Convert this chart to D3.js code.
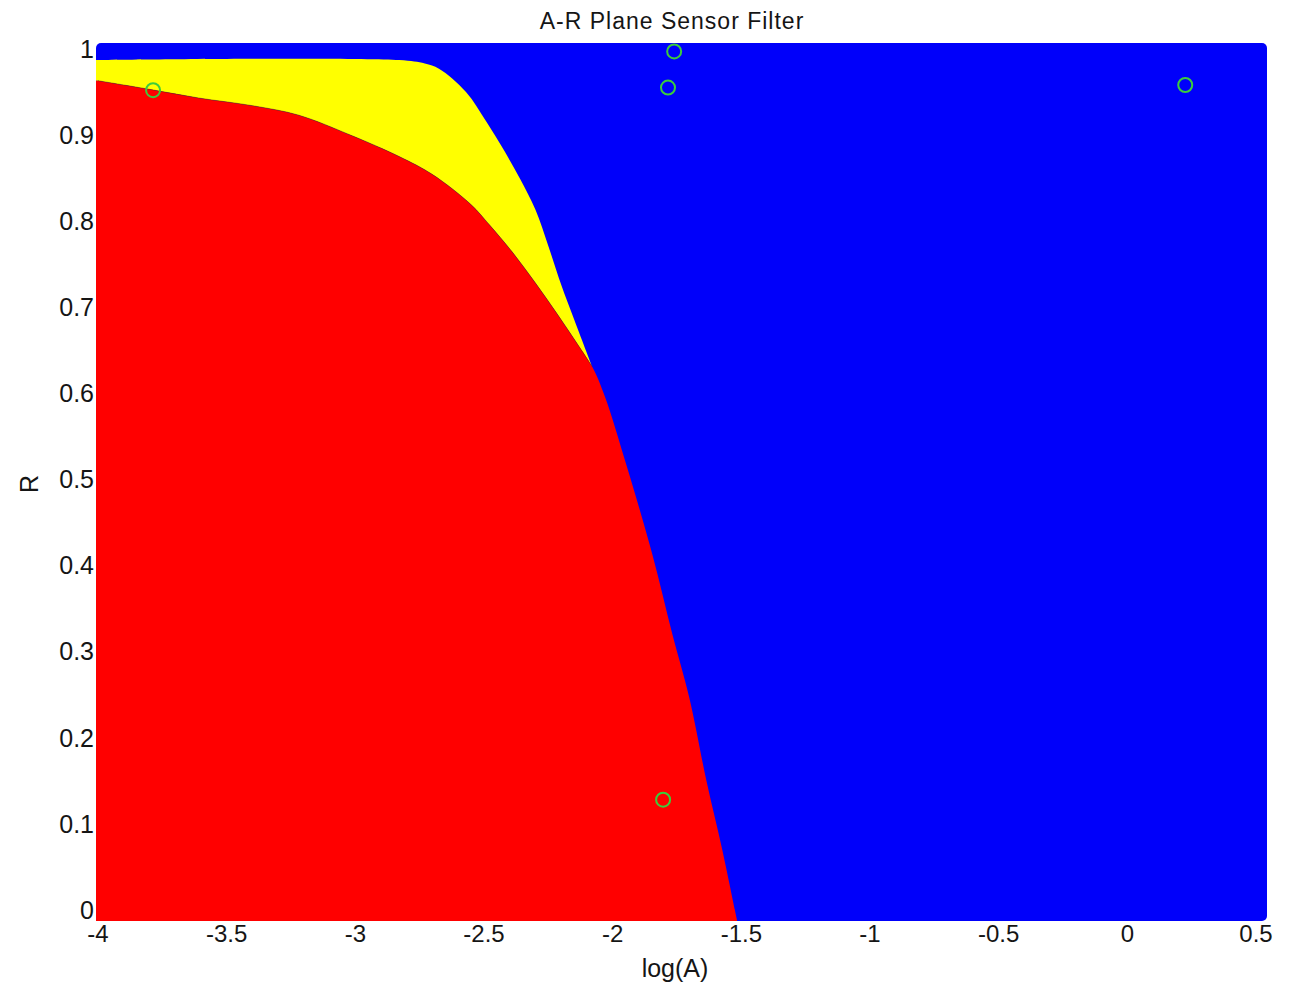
<!DOCTYPE html>
<html>
<head>
<meta charset="utf-8">
<script src="https://cdn.jsdelivr.net/npm/d3@7"></script>
<style>
body { margin: 0; background: #fff; }
text { font-family: "Liberation Sans", Arial, sans-serif; fill: #151515; }
</style>
</head>
<body>
<svg width="1290" height="988"></svg>
<script>
var xTicks = [-4, -3.5, -3, -2.5, -2, -1.5, -1, -0.5, 0, 0.5];
var yTicks = [0, 0.1, 0.2, 0.3, 0.4, 0.5, 0.6, 0.7, 0.8, 0.9, 1];

// top edge of the red region (log(A), R)
var redEdgeA = [-4.00, -3.80, -3.61, -3.40, -3.22, -3.02, -2.83, -2.70, -2.55, -2.48, -2.39, -2.30, -2.22, -2.15,
    -2.08, -2.03, -1.947, -1.846, -1.768, -1.702, -1.635, -1.575, -1.526];
var redEdgeR = [0.962, 0.952, 0.942, 0.933, 0.922, 0.899, 0.874, 0.853, 0.818, 0.795, 0.763, 0.727, 0.693, 0.662,
    0.630, 0.595, 0.516, 0.412, 0.319, 0.245, 0.148, 0.070, 0.000];

// top / right edge of the yellow region
var yellowEdgeA = [-4.00, -2.83, -2.73, -2.675, -2.57, -2.49, -2.42, -2.36, -2.30, -2.25, -2.20, -2.15, -2.08];
var yellowEdgeR = [0.986, 0.986, 0.982, 0.976, 0.949, 0.914, 0.880, 0.848, 0.812, 0.770, 0.725, 0.685, 0.630];

// sensor points (green circles)
var markA = [-3.786, -1.761, -1.785, 0.225, -1.804];
var markR = [0.951, 0.996, 0.954, 0.957, 0.127];

var svg = d3.select("svg");

var x = d3.scaleLinear().domain([-4, 0.5]).range([98, 1256]);
var y = d3.scaleLinear().domain([0, 1]).range([909, 48]);

// the scatter markers stick out a little past the data range
var padL = 2, padR = 11, padT = 5, padB = 12;

var smooth = d3.line().curve(d3.curveCatmullRom.alpha(0.5));
// curve through pts, joined to whatever comes before it
function joinCurve(pts) {
    return "L" + smooth(pts).slice(1);
}
function pt(p) {
    return p[0] + "," + p[1];
}

// blue fills the whole plane
svg.append("rect")
    .attr("x", x(-4) - padL)
    .attr("y", y(1) - padT)
    .attr("width", x(0.5) + padR - x(-4) + padL)
    .attr("height", y(0) + padB - y(1) + padT)
    .attr("rx", 5)
    .style("fill", "#0000fa");

var redPts = redEdgeA.map(function (a, i) { return [x(a), y(redEdgeR[i])]; });
var yelPts = yellowEdgeA.map(function (a, i) { return [x(a), y(yellowEdgeR[i])]; });

// yellow band: its own edge, then back along the red edge
var lastA = yellowEdgeA[yellowEdgeA.length - 1];
var seamPts = redPts.filter(function (p, i) { return redEdgeA[i] <= lastA; });
var xLeft = x(-4) - padL;

svg.append("path")
    .attr("d", "M" + pt([xLeft, yelPts[0][1]]) + joinCurve(yelPts) +
        joinCurve(seamPts.slice().reverse()) + "L" + pt([xLeft, redPts[0][1]]) + "Z")
    .style("fill", "#ffff00");

// red region, last edge segment extended down to the bottom of the marker field
var n = redPts.length;
var slope = (redPts[n - 1][0] - redPts[n - 2][0]) / (redPts[n - 1][1] - redPts[n - 2][1]);
var yBot = y(0) + padB;

svg.append("path")
    .attr("d", "M" + pt([xLeft, redPts[0][1]]) + joinCurve(redPts) +
        "L" + pt([redPts[n - 1][0] + slope * (yBot - redPts[n - 1][1]), yBot]) +
        "L" + pt([xLeft, yBot]) + "Z")
    .style("fill", "#ff0000");

// faint dark seam between red and yellow
svg.append("path")
    .attr("d", smooth(seamPts))
    .style("fill", "none")
    .style("stroke", "#5a2a00")
    .style("stroke-opacity", 0.45)
    .style("stroke-width", 1);

// green circles
svg.selectAll(".mark")
    .data(markA)
    .enter().append("circle")
    .attr("class", "mark")
    .attr("cx", function (d) { return x(d); })
    .attr("cy", function (d, i) { return y(markR[i]); })
    .attr("r", 7)
    .style("fill", "none")
    .style("stroke", "#3ccc3c")
    .style("stroke-width", 2);

// tick labels, no axis lines in the original
svg.selectAll(".xlab")
    .data(xTicks)
    .enter().append("text")
    .attr("class", "xlab")
    .attr("x", function (d) { return x(d); })
    .attr("y", 942)
    .style("font-size", "24px")
    .style("text-anchor", "middle")
    .text(function (d) { return d; });

svg.selectAll(".ylab")
    .data(yTicks)
    .enter().append("text")
    .attr("class", "ylab")
    .attr("x", 94)
    .attr("y", function (d) { return y(d) + 1; })
    .attr("dy", "0.35em")
    .style("font-size", "25px")
    .style("text-anchor", "end")
    .text(function (d) { return d; });

svg.append("text")
    .attr("x", 672)
    .attr("y", 29)
    .style("font-size", "23px")
    .style("letter-spacing", "1px")
    .style("text-anchor", "middle")
    .text("A-R Plane Sensor Filter");

svg.append("text")
    .attr("x", 675)
    .attr("y", 977)
    .style("font-size", "25px")
    .style("text-anchor", "middle")
    .text("log(A)");

svg.append("text")
    .attr("transform", "translate(38,484) rotate(-90)")
    .style("font-size", "25px")
    .style("text-anchor", "middle")
    .text("R");
</script>
</body>
</html>
